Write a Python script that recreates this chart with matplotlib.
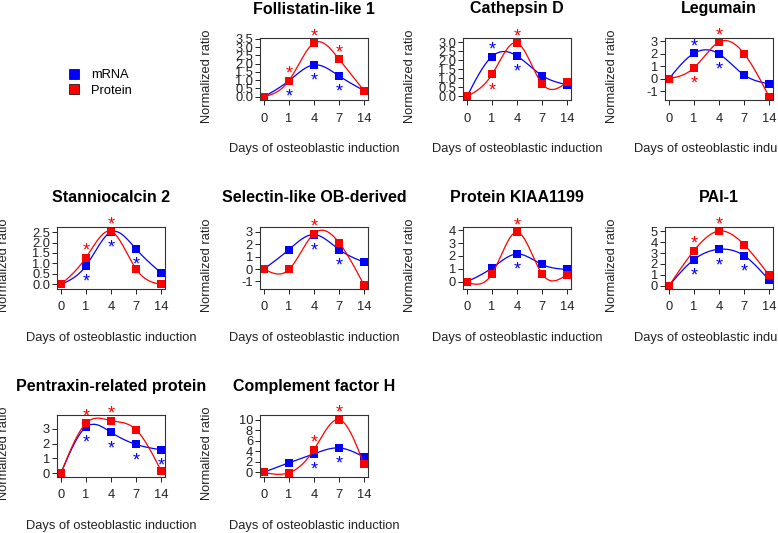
import numpy as np
import matplotlib
matplotlib.use('Agg')
import matplotlib.pyplot as plt
from matplotlib.lines import Line2D
from matplotlib.ticker import MultipleLocator, FormatStrFormatter

plt.rcParams['font.family'] = ['Liberation Sans', 'DejaVu Sans']

days = ['0', '1', '4', '7', '14']
genes = ['Follistatin-like 1', 'Cathepsin D', 'Legumain', 'Stanniocalcin 2',
         'Selectin-like OB-derived', 'Protein KIAA1199', 'PAI-1',
         'Pentraxin-related protein', 'Complement factor H']

mrna = [[0, 0.97, 1.93, 1.26, 0.37],
        [0, 2.22, 2.25, 1.16, 0.65],
        [0, 2.04, 1.99, 0.30, -0.41],
        [0, 0.89, 2.50, 1.69, 0.55],
        [0, 1.58, 2.79, 1.58, 0.56],
        [0, 1.07, 2.15, 1.34, 0.95],
        [0, 2.41, 3.35, 2.77, 0.52],
        [0, 3.13, 2.77, 1.95, 1.58],
        [0, 1.79, 3.50, 4.63, 2.90]]
protein = [[0, 0.98, 3.26, 2.28, 0.37],
           [0, 1.22, 2.98, 0.71, 0.78],
           [0, 0.87, 2.94, 2.02, -1.44],
           [0, 1.28, 2.53, 0.74, 0.0],
           [0, -0.03, 2.87, 2.14, -1.29],
           [-0.05, 0.61, 3.85, 0.61, 0.56],
           [0, 3.23, 5.03, 3.78, 0.98],
           [0, 3.39, 3.57, 2.95, 0.16],
           [-0.06, -0.12, 4.32, 10.06, 1.48]]
# significance stars: 1 = above the point, -1 = below, 0 = none
mrna_stars = [[0, -1, -1, -1, 0],
              [0, 1, -1, 0, 0],
              [0, 1, -1, 0, 0],
              [0, -1, -1, -1, 0],
              [0, 0, -1, -1, 0],
              [0, 0, -1, 0, 0],
              [0, -1, -1, -1, 0],
              [0, -1, -1, -1, -1],
              [0, 0, -1, -1, 0]]
protein_stars = [[0, 1, 1, 1, 0],
                 [0, -1, 1, 0, 0],
                 [0, -1, 1, 0, 0],
                 [0, 1, 1, 0, 0],
                 [0, 0, 1, 0, 0],
                 [0, 0, 1, 0, 0],
                 [0, 1, 1, 0, 0],
                 [0, 1, 1, 0, 0],
                 [0, 0, 1, 1, 0]]
ystep = [0.5, 0.5, 1, 0.5, 1, 1, 1, 1, 2]
ylims = [(-0.2, 3.56), (-0.2, 3.25), (-1.72, 3.27), (-0.22, 2.74), (-1.61, 3.40),
         (-0.56, 4.24), (-0.30, 5.40), (-0.27, 3.95), (-0.93, 10.93)]


def natural_spline(y, num=200):
    # natural cubic interpolating spline through equally spaced points
    y = np.asarray(y, float)
    k = len(y)
    A = np.zeros((k, k))
    b = np.zeros(k)
    A[0, 0] = 1
    A[-1, -1] = 1
    for i in range(1, k - 1):
        A[i, i - 1:i + 2] = [1, 4, 1]
        b[i] = 6 * (y[i + 1] - 2 * y[i] + y[i - 1])
    M = np.linalg.solve(A, b)
    xs = np.linspace(0, k - 1, num)
    i = np.minimum(xs.astype(int), k - 2)
    t = xs - i
    u = 1 - t
    ys = M[i] * u**3 / 6 + M[i + 1] * t**3 / 6 + (y[i] - M[i] / 6) * u + (y[i + 1] - M[i + 1] / 6) * t
    return xs, ys


W, H = 778, 533
col_left = [57, 260, 463, 665]
row_top = [38, 227, 415]
box_w, box_h = 108, 62
blue, red = '#0000ff', '#ff0000'

fig = plt.figure(figsize=(W / 100, H / 100), dpi=100)

for g, name in enumerate(genes):
    r, c = divmod(g + 1, 4)
    ax = fig.add_axes([col_left[c] / W, 1 - (row_top[r] + box_h) / H, box_w / W, box_h / H])
    x = np.arange(len(days))
    for vals, stars, color in [(mrna[g], mrna_stars[g], blue), (protein[g], protein_stars[g], red)]:
        xs, ys = natural_spline(vals)
        ax.plot(xs, ys, color=color, lw=0.9)
        ax.plot(x, vals, 's', color=color, ms=6.3, mew=0)
        for xi, v, s in zip(x, vals, stars):
            if s:
                ax.annotate('*', (xi, v), xytext=(0, 1.2 if s > 0 else -15),
                            textcoords='offset points', ha='center', va='baseline',
                            color=color, fontsize=13)
    ax.set_xlim(-0.16, 4.16)
    ax.set_ylim(*ylims[g])
    ax.set_xticks(x)
    ax.set_xticklabels(days)
    ax.yaxis.set_major_locator(MultipleLocator(ystep[g]))
    ax.yaxis.set_major_formatter(FormatStrFormatter('%.1f' if ystep[g] < 1 else '%d'))
    ax.tick_params(axis='x', length=3.5, width=0.7, pad=5.5, labelsize=9.3, colors='#222222')
    ax.tick_params(axis='y', length=3.5, width=0.7, pad=1.5, labelsize=9.3, colors='#222222')
    for sp in ax.spines.values():
        sp.set_linewidth(0.8)
        sp.set_color('#333333')
    ax.set_title(name, fontsize=11.5, fontweight='bold', y=1 + 29 / box_h, va='center', pad=0)
    ax.set_xlabel('Days of osteoblastic induction', fontsize=9.3, color='#222222')
    ax.xaxis.label.set_va('center')
    ax.xaxis.set_label_coords(0.5, -49 / box_h)
    ax.set_ylabel('Normalized ratio', fontsize=9.3, color='#222222')
    ax.yaxis.label.set_va('center')
    ax.yaxis.set_label_coords(-53 / box_w, 0.5 - 7 / box_h)

handles = [Line2D([], [], ls='none', marker='s', ms=7, mfc=blue, mec='black', mew=0.5, label='mRNA'),
           Line2D([], [], ls='none', marker='s', ms=7, mfc=red, mec='black', mew=0.5, label='Protein')]
fig.legend(handles=handles, loc='center', bbox_to_anchor=(100 / W, 1 - 83 / H), frameon=False,
           fontsize=9.3, handlelength=1, handletextpad=0.8, labelspacing=0.25, borderpad=0)

fig.savefig('out.png', dpi=100)
